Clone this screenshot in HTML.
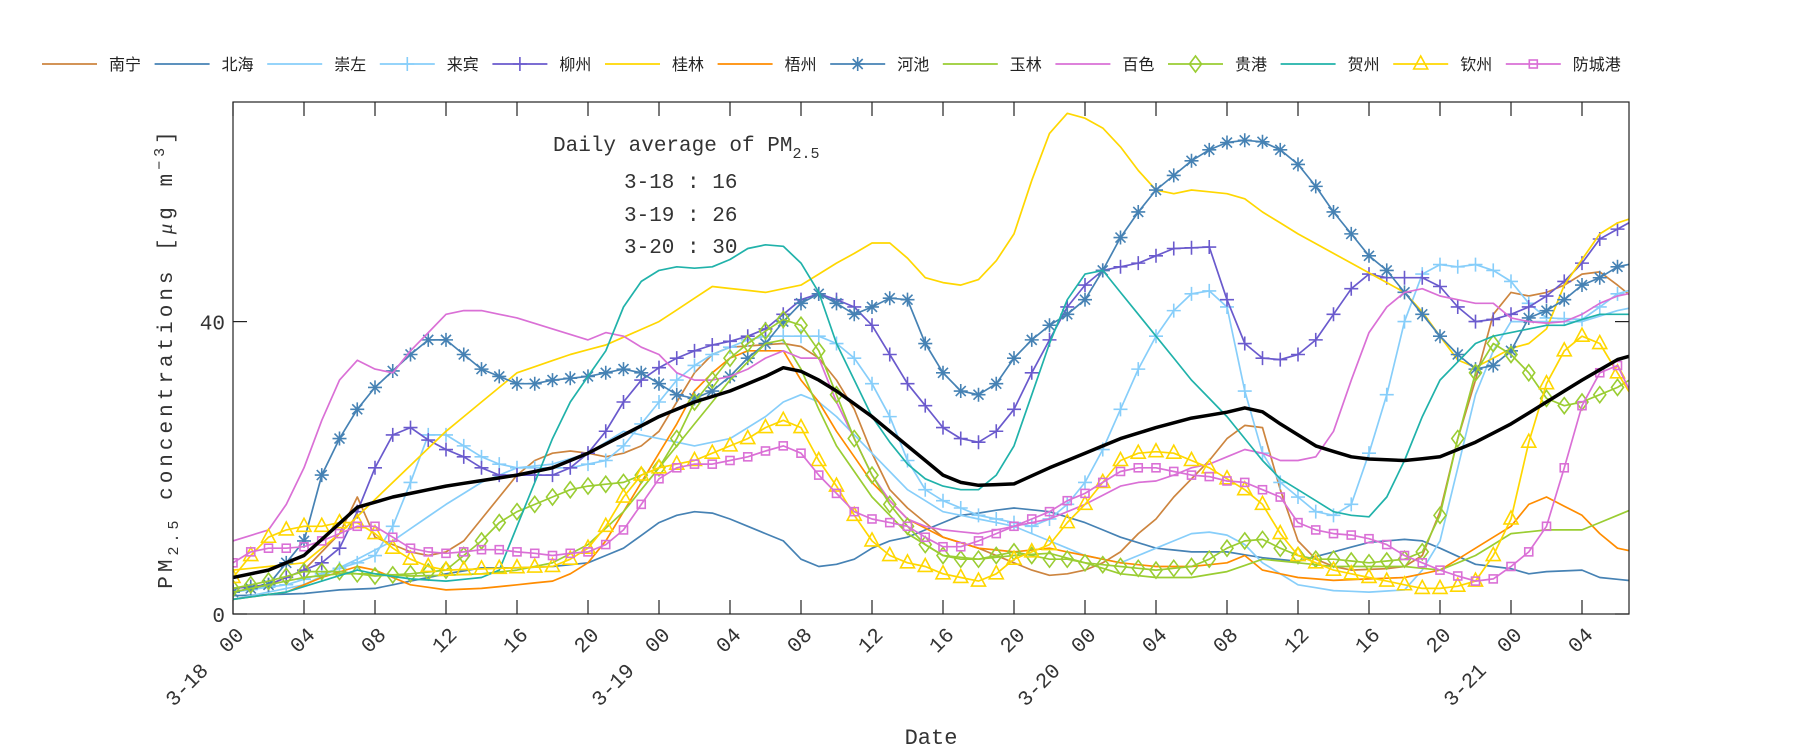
<!DOCTYPE html>
<html><head><meta charset="utf-8">
<style>
html,body{margin:0;padding:0;background:#fff;}
svg{display:block;}
.mono{font-family:"Liberation Mono","DejaVu Sans Mono",monospace;fill:#333;white-space:pre;}
.leg{font-family:"Liberation Sans","Noto Sans CJK SC",sans-serif;font-size:16px;fill:#222;}
</style></head>
<body>
<svg id="c" width="1800" height="750" xmlns="http://www.w3.org/2000/svg"></svg>
<script>
const svg=document.getElementById('c');
const NS='http://www.w3.org/2000/svg';
const L=233,R=1629,T=102,B=614;
const X=h=>L+h*17.75, Y=v=>B-v*7.31;
function el(t,a,p){const e=document.createElementNS(NS,t);for(const k in a)e.setAttribute(k,a[k]);(p||svg).appendChild(e);return e;}
function txt(s,a,p){const e=el('text',a,p);e.textContent=s;return e;}
const defs=el('defs',{});const cp=el('clipPath',{id:'cp'},defs);el('rect',{x:L,y:T,width:R-L,height:B-T},cp);
const S=[
['南宁','#cd853f',null,[0,3.5,2,4,4,6,6,11,7,16,8,10.5,9,9.5,10,8.5,11,8,12,8.5,13,10,14,13,15,16,16,19,17,21,18,22,19,22.3,20,22,21,21.5,22,22,23,23,24,25,25,29,26,33,27,35.5,28,36.5,31,37,32,36.6,33,35,34,32,35,28,36,22,37,17,38,14.5,39,12.5,40,10.5,42,9,44,7,45,6,46,5.3,47,5.5,48,6,49,7,50,8.5,51,11,52,13,53,16,54,18.5,55,21,56,24,57,25.8,58,25.5,59,17,60,10,61,7.5,62,6.5,63,6,65,6.2,66,6.5,67,8,68,14,69,24,70,32,71,41,72,44,73,43.5,74,44,75,45,76,46.5,77,46.8,78,45,79,43]],
['北海','#4682b4',null,[0,2.5,4,2.8,6,3.3,8,3.5,10,4.5,12,5.5,14,6.3,16,6.3,18,6.5,20,7,22,9,24,12.5,25,13.5,26,14,27,13.8,28,13,30,11,31,10,32,7.5,33,6.5,34,6.8,35,7.5,36,9,37,10,38,10.5,40,12.5,41,13.5,42,13.8,43,14.2,44,14.5,46,14,48,12.5,50,10.5,52,9,54,8.5,56,8.5,58,7.7,60,7.2,62,8.5,64,9.8,66,10.2,67,10,68,9,70,6.8,72,6.2,73,5.5,74,5.8,76,6,77,5,79,4.5]],
['崇左','#87cefa',null,[0,2,4,4,7,7.5,9,10,12,15,14,18,16,20,18,20.5,20,22,22,25,24,24,26,23,28,24,30,27,31,29,32,30,33,29,34,27,36,22,38,17,40,14,42,13,44,12,46,10,48,8,50,7,52,9,54,11,55,11.2,56,10.8,57,9.5,58,7,60,4,62,3.2,64,3,66,3.3,67,6,68,10,69,20,70,30,71,36,72,40,74,40,76,40,78,41.5,79,42]],
['来宾','#87cefa','plus',[0,3,3,4,5,5.5,7,7,8,8,9,12,10,18,11,24.5,12,24.5,13,23,14,21.5,15,20.5,16,20,19,20,20,20.5,21,21,22,23,23,26,24,29,25,32,26,34,27,35.5,28,36.5,29,37.5,30,38,33,38,34,37,35,35,36,31.5,37,27,38,21,39,17,40,15.5,41,14.5,42,13.5,43,13,44,12.5,45,12,46,13,47,15,48,18,49,22.5,50,28,51,33.5,52,38,53,41.5,54,43.8,55,44.2,56,42,57,30.5,58,22,59,18,60,16,61,14,62,13.5,63,15,64,22,65,30,66,40,67,46.5,68,47.8,69,47.5,70,47.8,71,47,72,45.5,73,42.5,74,40.5,76,40.3,77,42,78,43.8,79,44.5]],
['柳州','#6a5acd','plus',[0,3.5,2,4,4,6,5,7,6,9,7,14,8,20,9,24.5,10,25.5,11,23.8,12,22.5,13,21.5,14,20,15,19,18,19,19,20,20,22,21,25,22,29,23,32,24,33.7,25,35,26,36,27,36.8,28,37.3,29,38,30,39,31,41,32,43,33,43.8,34,43,35,42,36,39.5,37,35.5,38,31.5,39,28.5,40,25.5,41,24,42,23.5,43,25,44,28,45,33,46,37.5,47,42,48,45,49,47,50,47.5,51,48,52,49,53,50,55,50.2,56,43,57,37,58,35,59,34.8,60,35.5,61,37.5,62,41,63,44.5,64,46.5,65,46,67,46,68,44.8,69,42,70,40,71,40.3,72,41,73,42,74,43.5,75,45.5,76,48,77,51.3,79,54]],
['桂林','#ffd700',null,[0,6,4,7,6,11,9,18,12,25,16,33,19,35.5,21,36.8,24,40,27,44.8,30,44,32,45,34,48,35.5,50,36.5,51.5,37.5,50,39,46,40.5,45,41.5,45,42.5,46.5,44,52,45.5,63,46.5,68.5,47.5,68.5,49.5,65.8,50.5,62,52,58,53,57.5,54,58,56,57.5,57,56.8,58,55,60,52,63,48,66,44,67.5,40,68.5,36,69.5,33.5,70.5,34,71.5,36,73,37,74,39,75,45,77,52,78,53.5,79,54.3]],
['梧州','#ff8c00',null,[0,2,3,3,5,5,7,6.5,8,6,10,4,12,3.3,14,3.5,16,4,18,4.5,19,5.5,20,7,21,10,22,14,23,18,24,22,25,26,26,30.5,27,33,28,35,29,36,31,36,32,32,33,29,34,25,35,21.5,36,18,37,15.5,38,13,40,10.5,42,9,44,8.5,46,9,47,8.5,48,8,50,7,52,6.5,54,6.5,56,7,57,8,58,6,60,5,62,4.6,64,4.8,66,5,68,6,70,9,72,12,73,15,74,16,76,13.5,77,11,78,9,79,8.5]],
['河池','#4682b4','star',[0,3,2,4,4,10,5,19,6,24,7,28,8,31,10,35.5,11,37.5,12,37.5,13,35.5,14,33.5,15,32.5,16,31.5,17,31.5,18,32,20,32.5,21,33,22,33.5,23,33,24,31.5,25,30,26,29.5,27,30.5,28,32.5,29,35,30,37,31,40,32,42.5,33,43.8,34,42.5,35,41,36,42,37,43.2,38,43,39,37,40,33,41,30.5,42,30,43,31.5,44,35,45,37.5,46,39.5,47,41,48,43,49,47,50,51.5,51,55,52,58,53,60,54,62,55,63.5,56,64.5,57,64.8,58,64.6,59,63.5,60,61.5,61,58.5,62,55,63,52,64,49,65,47,66,44,67,41,68,38,69,35.5,70,33.5,71,34,72,36,73,40.5,74,41.5,75,43,76,45,77,46,78,47.5,79,48]],
['玉林','#9acd32',null,[0,3,4,5,6,5.5,8,5.5,10,5.2,12,5.3,14,5.5,16,6,18,7,20,9.5,22,14,24,20,26,26,28,32,30,37,31,37.5,32,33.5,33,28,34,23,36,16,38,11,40,8,42,7.5,44,8,46,8.3,48,7,50,5.5,52,5,54,5,56,5.8,58,7.5,60,7,62,6.5,66,6.5,68,6,70,8,72,11,74,11.5,76,11.5,78,13.5,79,14.5]],
['百色','#da70d6',null,[0,10,2,11.5,3,15,4,20,5,26.5,6,32,7,34.7,8,33.5,9,33,10,36,11,38.5,12,41,13,41.5,14,41.5,16,40.5,18,39,20,37.5,21,38.5,22,38,23,36.5,24,35.5,25,33,26,32,27,32,28,32.5,29,33.5,30,35,31,36,32,35,33,35,34,29,35,24,36,19,37,15.5,38,13,39,12,40,11.5,42,11,44,12,46,13,48,15,50,17.5,51,18,52,18.2,53,19,54,20,55,20.5,56,21.5,57,22.5,58,22,59,21,60,21,61,21.5,62,25,63,32,64,38.5,65,42,66,44,67,44.5,68,43.5,69,43,70,42.5,71,42.5,72,40.5,73,40,74,39.8,75,40,76,41,77,42.5,78,43.5,79,44]],
['贵港','#9acd32','diamond',[0,3.5,2,4.5,4,5.8,6,5.8,8,5.2,10,5.5,12,6,13,8,14,10,15,12.5,16,14,17,15,18,16,19,17,20,17.5,22,18,23,19,24,20,25,24,26,29,27,32,28,35,29,37,30,38.7,31,40.3,32,39.5,33,36,34,30,35,24,36,19,37,15,38,12,39,9.5,40,8,41,7.5,42,7.5,43,8,44,8.5,45,8,46,7.5,47,7.5,48,7,50,6.5,52,6,54,6.5,55,7.5,56,9,57,10,58,10.2,59,9,60,8,61,7.5,62,7.5,64,7,66,7.5,67,8.5,68,13.5,69,24,70,33,71,37,72,35.5,73,33,74,29.5,75,28.5,76,29,77,30,78,31,79,32.5]],
['贺州','#20b2aa',null,[0,2,3,3,5,4.5,7,6,8,5.5,10,4.8,12,4.5,14,5,15,6,16,12,17,18,18,24,19,29,20,32.5,21,36,22,42,23,45.5,24,47,25,47.5,26,47.3,27,47.5,28,48.5,29,50,30,50.5,31,50.3,32,48,33,44,34,37,35,32,36,27,37,23.5,38,20.5,39,18.5,40,17.5,41,17,42,17,43,19,44,23,45,30,46,37,47,43,48,46.5,49,47,50,44,51,41,52,38,53,35,54,32,55,29.5,56,27,57,24,58,21,59,18.5,60,17,61,15.5,62,14,63,13.5,64,13.3,65,16,66,21,67,27,68,32,69,34.5,70,37,71,38,72,38.5,73,39,74,39.5,75,39.5,76,40.3,77,41,79,41]],
['钦州','#ffd700','tri',[0,5,1,8,2,10.5,3,11.5,4,12,5,12,6,12.5,7,12.5,8,11,9,9,10,7.5,11,6.5,12,6,18,6.5,19,7.5,20,9,21,12,22,16,23,19,24,20,25,20.5,26,21,27,22,28,23,29,24,30,25.5,31,26.5,32,25.5,33,21,34,17.5,35,13.5,36,10,37,8,38,7,39,6.5,40,5.5,41,5,42,4.5,43,5.5,44,7.5,45,8.5,46,9.5,47,12.5,48,15,49,18,50,21,51,22,52,22.2,53,22,54,21,55,20,56,18.5,57,17,58,15,59,11,60,8,61,7,62,6,63,5.5,64,5,65,4.5,66,4,67,3.5,68,3.5,69,3.8,70,4.5,71,8,72,13,73,23.5,74,31.5,75,36,76,38,77,37,78,33,79,29]],
['防城港','#da70d6','square',[0,7,1,8.5,2,9,3,9,4,9.2,5,10,6,11,7,12,8,12,9,10.5,10,9,11,8.5,12,8.3,13,8.5,14,8.8,15,8.8,16,8.5,17,8.3,18,8,19,8.3,20,8.5,21,9.5,22,11.5,23,15,24,18.5,25,20,26,20.5,27,20.5,28,21,29,21.5,30,22.3,31,23,32,22,33,19,34,16.5,35,14,36,13,37,12.5,38,12,39,10.5,40,9.2,41,9.2,42,10,43,11,44,12,45,13,46,14,47,15.5,48,16.5,49,18,50,19.5,51,20,52,20,53,19.5,54,19,55,18.8,56,18.2,57,18,58,17,59,16,60,12.5,61,11.5,62,11,63,10.8,64,10.3,65,9.5,66,8,67,7,68,6,69,5.2,70,4.5,71,4.8,72,6.5,73,8.5,74,12,75,20,76,28.5,77,33,78,34,79,29]]
];
const MEAN=[0,5,2,6,4,8,7,14.6,9,16,12,17.5,16,19,18,20,20,22,22,24.5,24,27,26,29,28,30.5,30,32.5,31,33.7,32,33.2,33,32,34,30.5,36,27,38,23,39,21,40,19,41,18,42,17.6,44,17.8,46,20,48,22,50,24,52,25.5,54,26.8,56,27.6,57.5,28.5,59,26,60,24.5,61,23,63,21.5,64,21.2,66,21,68,21.5,70,23.5,72,26,74,29,76,32,78,34.8,79,35.5];
function interp(k,h){for(let i=0;i<k.length-2;i+=2){if(h>=k[i]&&h<=k[i+2]){const t=(h-k[i])/(k[i+2]-k[i]);return k[i+1]+t*(k[i+3]-k[i+1]);}}return k[k.length-1];}
function marker(type,x,y,c,g){
 const a={fill:'none',stroke:c,'stroke-width':1.6};
 if(type==='plus'){el('path',Object.assign({d:`M${x-7},${y}H${x+7}M${x},${y-7}V${y+7}`},a),g);}
 else if(type==='star'){el('path',Object.assign({d:`M${x-7},${y}H${x+7}M${x},${y-7}V${y+7}M${x-5},${y-5}L${x+5},${y+5}M${x-5},${y+5}L${x+5},${y-5}`},a),g);}
 else if(type==='diamond'){el('path',Object.assign({d:`M${x},${y-8}L${x+6},${y}L${x},${y+8}L${x-6},${y}Z`},a),g);}
 else if(type==='tri'){el('path',Object.assign({d:`M${x},${y-8}L${x+7},${y+5}L${x-7},${y+5}Z`},a),g);}
 else if(type==='square'){el('rect',Object.assign({x:x-4,y:y-4,width:8,height:8},a),g);}
}
const g=el('g',{'clip-path':'url(#cp)'});
function series(k,c,w,m){const pts=[];for(let h=0;h<=79;h++){pts.push([X(h),Y(interp(k,h))]);}
 el('polyline',{points:pts.map(p=>p[0].toFixed(1)+','+p[1].toFixed(1)).join(' '),fill:'none',stroke:c,'stroke-width':w,'stroke-linejoin':'round'},g);
 if(m)pts.forEach(p=>{if(p[0]<=R+1)marker(m,p[0],p[1],c,g);});}
S.forEach(s=>series(s[3],s[1],1.7,s[2]));
series(MEAN,'#000',3.5,null);
el('rect',{x:L,y:T,width:R-L,height:B-T,fill:'none',stroke:'#222','stroke-width':1.2});
for(let h=0;h<=78;h+=4){const x=X(h);
 el('line',{x1:x,y1:B,x2:x,y2:B-14,stroke:'#222','stroke-width':1.2});
 el('line',{x1:x,y1:T,x2:x,y2:T+14,stroke:'#222','stroke-width':1.2});
 const hh=String(h%24).padStart(2,'0');const d=Math.floor(h/24);
 const lab=(h%24===0)?('3-'+(18+d)+'\u00a0\u00a0'+hh):hh;
 txt(lab,{class:'mono','font-size':21,'text-anchor':'end',transform:`translate(${x+12},${B+22}) rotate(-45)`});
}
[0,40].forEach(v=>{const y=Y(v);el('line',{x1:L,y1:y,x2:L+14,y2:y,stroke:'#222','stroke-width':1.2});el('line',{x1:R,y1:y,x2:R-14,y2:y,stroke:'#222','stroke-width':1.2});
 txt(String(v),{class:'mono','font-size':21,'text-anchor':'end',x:L-8,y:y+8});});
txt('Date',{class:'mono','font-size':22,'text-anchor':'middle',x:931,y:744});
const yl=txt('',{class:'mono','font-size':21,'text-anchor':'middle',transform:'translate(172,358) rotate(-90)','letter-spacing':'4'});
yl.innerHTML='PM<tspan dy="6" font-size="15">2.5</tspan><tspan dy="-6"> concentrations [</tspan><tspan font-family="Liberation Serif" font-style="italic">μ</tspan>g m<tspan dy="-8" font-size="15">−3</tspan><tspan dy="8">]</tspan>';
const t1=txt('',{class:'mono','font-size':21,x:553,y:151});
t1.innerHTML='Daily average of PM<tspan dy="7" font-size="15">2.5</tspan>';
txt('3-18 : 16',{class:'mono','font-size':21,x:624,y:188});
txt('3-19 : 26',{class:'mono','font-size':21,x:624,y:221});
txt('3-20 : 30',{class:'mono','font-size':21,x:624,y:253});
S.forEach((s,i)=>{const x0=42+i*112.6,y=64;
 el('line',{x1:x0,y1:y,x2:x0+55,y2:y,stroke:s[1],'stroke-width':1.7});
 if(s[2])marker(s[2],x0+27.5,y,s[1],svg);
 txt(s[0],{class:'leg',x:x0+67,y:y+6});});
</script>
</body></html>
